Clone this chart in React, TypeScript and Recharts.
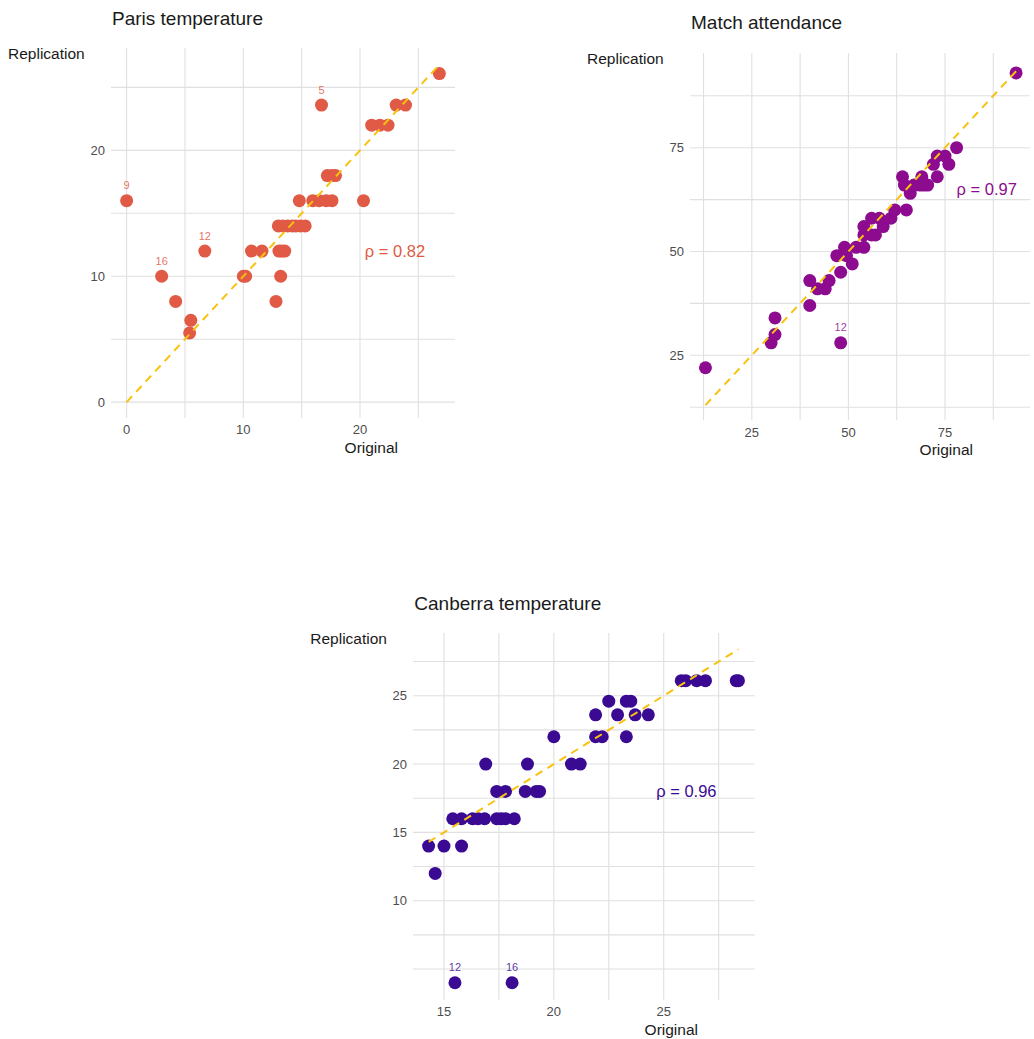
import React from 'react';
import {
  ScatterChart,
  Scatter,
  XAxis,
  YAxis,
  CartesianGrid,
  LabelList,
} from 'recharts';

// ---- Paris temperature ----
const parisOriginal = [
  0, 3.0, 4.2, 5.5, 5.4, 6.7, 10.0, 10.2, 10.7, 11.6, 12.8, 13.2,
  13.05, 13.3, 13.55,
  13.0, 13.4, 13.8, 14.2, 14.5, 14.9, 15.3,
  14.8, 15.95, 16.5, 17.1, 17.6, 20.3,
  17.2, 17.6, 17.9,
  16.7, 21.0, 21.7, 22.4, 23.1, 23.9, 26.8,
];
const parisReplication = [
  16, 10, 8, 6.5, 5.5, 12, 10, 10, 12, 12, 8, 10,
  12, 12, 12,
  14, 14, 14, 14, 14, 14, 14,
  16, 16, 16, 16, 16, 16,
  18, 18, 18,
  23.6, 22, 22, 22, 23.6, 23.6, 26.1,
];
const parisIds: Record<number, string> = { 0: '9', 1: '16', 5: '12', 31: '5' };

// ---- Match attendance ----
const matchOriginal = [
  13, 30, 31, 31, 40, 40, 42, 44, 45, 47, 48, 48, 49, 49.5, 51, 52, 54, 54, 54,
  56, 56, 57, 58, 59, 61, 62, 64, 64.5, 66, 65, 67, 68.5, 69, 69.5, 70.5,
  72, 73, 73, 75, 76, 78, 93.4,
];
const matchReplication = [
  22, 28, 30, 34, 43, 37, 41, 41, 43, 49, 45, 28, 51, 49, 47, 51, 51, 54, 56,
  58, 54, 54, 58, 56, 58, 60, 68, 66, 64, 60, 66, 66, 68, 66, 66,
  71, 68, 73, 73, 71, 75, 93,
];
const matchIds: Record<number, string> = { 11: '12' };

// ---- Canberra temperature ----
const canberraOriginal = [
  14.3, 14.6, 15.0, 15.8,
  15.4, 15.8, 16.3, 16.55, 16.85, 17.4, 17.6, 17.8, 18.2,
  16.9, 17.4, 17.8, 18.7, 19.2, 19.35, 18.8, 20.0, 20.8, 21.2,
  21.9, 21.9, 22.2, 22.5, 22.9, 23.3, 23.5, 23.3, 23.7, 24.3,
  25.8, 26.0, 26.5, 26.9, 28.3, 28.4,
  15.5, 18.1,
];
const canberraReplication = [
  14, 12, 14, 14,
  16, 16, 16, 16, 16, 16, 16, 16, 16,
  20, 18, 18, 18, 18, 18, 20, 22, 20, 20,
  23.6, 22, 22, 24.6, 23.6, 24.6, 24.6, 22, 23.6, 23.6,
  26.1, 26.1, 26.1, 26.1, 26.1, 26.1,
  4, 4,
];
const canberraIds: Record<number, string> = { 39: '12', 40: '16' };

const FONT = "'Liberation Sans', Arial, Helvetica, sans-serif";
const GOLD = '#F8C20F';
const GRID = '#e0e0e0';

type Box = { left: number; top: number; right: number; bottom: number };

type PanelProps = {
  title: string;
  original: number[];
  replication: number[];
  ids: Record<number, string>;
  color: string;
  xDomain: [number, number];
  yDomain: [number, number];
  xTicks: number[];
  yTicks: number[];
  xGrid: number[];
  yGrid: number[];
  diag: [number, number];
  rho: string;
  rhoAt: [number, number];
  box: Box;
};

const YW = 40;
const XH = 30;

function Panel(p: PanelProps) {
  const data = p.original.map((x, i) => ({ x, y: p.replication[i], id: p.ids[i] }));
  // identity line y = x, drawn on top of the points
  const diagData = p.diag.map((v) => ({ x: v, y: v }));
  const rhoData = [{ x: p.rhoAt[0], y: p.rhoAt[1] }];
  const margin = { left: 71, right: 4, top: 48, bottom: 2 };
  const plotW = p.box.right - p.box.left;
  const plotH = p.box.bottom - p.box.top;
  const width = plotW + margin.left + YW + margin.right;
  const height = plotH + margin.top + margin.bottom + XH;
  const tickStyle = { fill: '#4d4d4d', fontSize: 13, fontFamily: FONT };

  return (
    <>
      <div
        style={{
          position: 'absolute',
          left: p.box.left - margin.left - YW,
          top: p.box.top - margin.top,
        }}
      >
        <ScatterChart width={width} height={height} margin={margin}>
          <CartesianGrid
            stroke={GRID}
            strokeWidth={1.1}
            horizontalValues={p.yGrid}
            verticalValues={p.xGrid}
          />
          <XAxis
            type="number"
            dataKey="x"
            domain={p.xDomain}
            ticks={p.xTicks}
            allowDataOverflow
            axisLine={false}
            tickLine={false}
            tickSize={0}
            tickMargin={7}
            height={XH}
            tick={tickStyle}
            interval={0}
          />
          <YAxis
            type="number"
            dataKey="y"
            domain={p.yDomain}
            ticks={p.yTicks}
            allowDataOverflow
            axisLine={false}
            tickLine={false}
            tickSize={0}
            tickMargin={6}
            width={YW}
            tick={tickStyle}
            interval={0}
          />
          <Scatter
            data={data}
            isAnimationActive={false}
            shape={(s: any) => <circle cx={s.cx} cy={s.cy} r={6.5} fill={p.color} />}
          >
            <LabelList
              dataKey="id"
              position="top"
              offset={7}
              fill={p.color}
              fillOpacity={0.85}
              fontSize={11}
              fontFamily={FONT}
            />
          </Scatter>
          <Scatter
            data={diagData}
            isAnimationActive={false}
            line={{ stroke: GOLD, strokeWidth: 2, strokeDasharray: '8 6' }}
            shape={() => <g />}
          />
          <Scatter
            data={rhoData}
            isAnimationActive={false}
            shape={(s: any) => (
              <text
                x={s.cx}
                y={s.cy}
                textAnchor="middle"
                dominantBaseline="central"
                fill={p.color}
                fontSize={16.5}
                fontFamily={FONT}
              >
                {p.rho}
              </text>
            )}
          />
        </ScatterChart>
      </div>
      <div
        style={{
          position: 'absolute',
          left: p.box.left + 1,
          top: p.box.top - 29.5 - 11,
          lineHeight: '22px',
          fontSize: 19,
          fontFamily: FONT,
          color: '#1a1a1a',
          whiteSpace: 'nowrap',
        }}
      >
        {p.title}
      </div>
      <div
        style={{
          position: 'absolute',
          left: p.box.left - 103,
          top: p.box.top + 6 - 10,
          lineHeight: '20px',
          fontSize: 15.5,
          fontFamily: FONT,
          color: '#1a1a1a',
          whiteSpace: 'nowrap',
        }}
      >
        Replication
      </div>
      <div
        style={{
          position: 'absolute',
          left: p.box.right - 157,
          width: 100,
          textAlign: 'right',
          top: p.box.bottom + 29.5 - 10,
          lineHeight: '20px',
          fontSize: 15.5,
          fontFamily: FONT,
          color: '#1a1a1a',
          whiteSpace: 'nowrap',
        }}
      >
        Original
      </div>
    </>
  );
}

export default function App() {
  return (
    <div
      style={{
        position: 'fixed',
        left: 0,
        top: 0,
        width: 1034,
        height: 1039,
        overflow: 'hidden',
        background: '#fff',
      }}
    >
      <Panel
        title="Paris temperature"
        original={parisOriginal}
        replication={parisReplication}
        ids={parisIds}
        color="#E05A45"
        xDomain={[-1.34, 28.14]}
        yDomain={[-1.26, 28.13]}
        xTicks={[0, 10, 20]}
        yTicks={[0, 10, 20]}
        xGrid={[0, 5, 10, 15, 20, 25]}
        yGrid={[0, 5, 10, 15, 20, 25]}
        diag={[0, 26.8]}
        rho="ρ = 0.82"
        rhoAt={[23.0, 12.0]}
        box={{ left: 111, top: 48.3, right: 455, bottom: 418.3 }}
      />
      <Panel
        title="Match attendance"
        original={matchOriginal}
        replication={matchReplication}
        ids={matchIds}
        color="#8C0B8E"
        xDomain={[9.0, 97.0]}
        yDomain={[9.35, 97.8]}
        xTicks={[25, 50, 75]}
        yTicks={[25, 50, 75]}
        xGrid={[12.5, 25, 37.5, 50, 62.5, 75, 87.5]}
        yGrid={[12.5, 25, 37.5, 50, 62.5, 75, 87.5]}
        diag={[13, 93.4]}
        rho="ρ = 0.97"
        rhoAt={[85.8, 65.1]}
        box={{ left: 690, top: 52.7, right: 1030, bottom: 420 }}
      />
      <Panel
        title="Canberra temperature"
        original={canberraOriginal}
        replication={canberraReplication}
        ids={canberraIds}
        color="#3A0A92"
        xDomain={[13.59, 29.14]}
        yDomain={[2.76, 29.59]}
        xTicks={[15, 20, 25]}
        yTicks={[10, 15, 20, 25]}
        xGrid={[15, 17.5, 20, 22.5, 25, 27.5]}
        yGrid={[5, 7.5, 10, 12.5, 15, 17.5, 20, 22.5, 25, 27.5]}
        diag={[14.3, 28.4]}
        rho="ρ = 0.96"
        rhoAt={[26.03, 18.0]}
        box={{ left: 413.3, top: 633.3, right: 755, bottom: 1000 }}
      />
    </div>
  );
}
